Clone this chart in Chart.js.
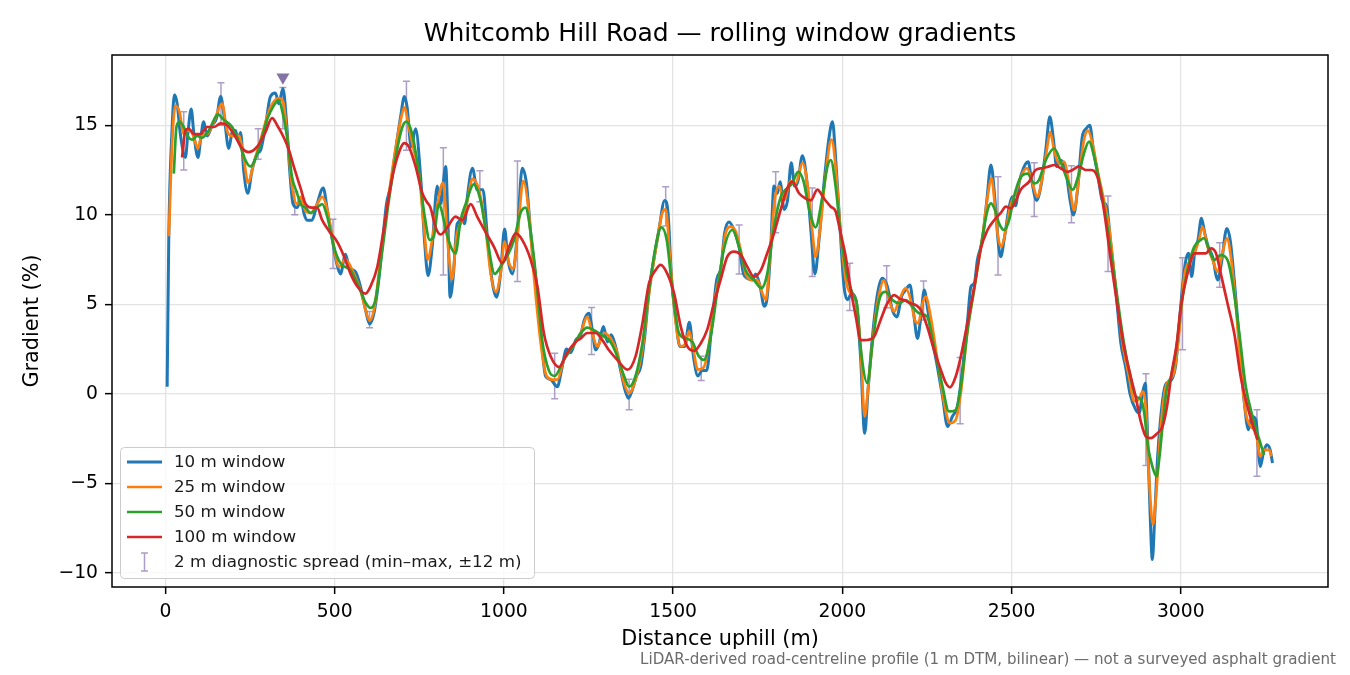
<!DOCTYPE html>
<html><head><meta charset="utf-8">
<script src="https://cdn.jsdelivr.net/npm/chart.js@4.4.1/dist/chart.umd.min.js"></script>
<style>html,body{margin:0;padding:0;background:#fff;}canvas{display:block;}</style>
</head><body>
<canvas id="c" width="1350" height="675"></canvas>
<script>
const chartTitle = 'Whitcomb Hill Road \u2014 rolling window gradients';
const xLabel = 'Distance uphill (m)';
const yLabel = 'Gradient (%)';
const footnote = 'LiDAR-derived road-centreline profile (1 m DTM, bilinear) \u2014 not a surveyed asphalt gradient';
const seriesNames = ['10 m window', '25 m window', '50 m window', '100 m window'];
const spreadName = '2 m diagnostic spread (min\u2013max, \u00b112 m)';
const xTicks = [0, 500, 1000, 1500, 2000, 2500, 3000];
const yTicks = [-10, -5, 0, 5, 10, 15];

// [distance m, gradient %]
const win10 = [[5,0.4],[9.8,8.8],[19.7,14.9],[26.6,16.7],[34.5,16.2],[44,14.5],[59,13.2],[66,14.5],[76,15.9],[84,14.5],[96,13.2],[105,14.4],[113,15.2],[123,14.4],[138,15.0],[151,15.4],[163,16.6],[174,15.4],[187,13.7],[197,14.6],[207,14.7],[214,14.2],[222,14.6],[231,12.5],[243,11.2],[256,12.5],[271,13.4],[281,13.6],[295,14.9],[310,16.6],[325,16.8],[335,16.2],[347,17.05],[358,15.1],[367,12.5],[377,10.6],[389,10.4],[401,10.9],[409,10.1],[419,9.7],[433,9.7],[448,10.6],[466,11.5],[478,10.3],[493,8.6],[507,7.2],[517,6.7],[532,7.8],[542,7.1],[562,6.8],[576,6.0],[591,4.7],[603,3.9],[616,4.5],[631,6.5],[640,8.2],[653,10.6],[665,11.6],[680,13.6],[695,15.5],[706,16.6],[714,16.0],[726,13.8],[739,14.8],[754,12.1],[766,8.4],[776,6.6],[788,8.2],[803,11.6],[813,10.6],[828,12.7],[835,9.3],[841,5.4],[850,6.5],[862,9.5],[877,9.7],[884,9.5],[892,11.0],[907,12.6],[921,11.4],[938,11.4],[951,8.8],[966,6.2],[978,5.4],[990,6.7],[1002,9.2],[1012,7.5],[1025,6.7],[1040,9.0],[1054,12.6],[1067,11.7],[1079,9.0],[1094,6.4],[1109,3.4],[1123,1.0],[1138,0.8],[1158,0.4],[1170,1.3],[1185,2.5],[1197,2.3],[1212,3.0],[1227,3.3],[1237,4.1],[1251,4.5],[1261,3.6],[1271,2.45],[1281,2.8],[1294,3.76],[1306,2.9],[1317,3.3],[1330,2.65],[1345,1.3],[1358,0.2],[1368,-0.24],[1379,0.2],[1392,1.0],[1404,1.5],[1416,3.2],[1429,5.8],[1443,7.5],[1458,9.15],[1475,10.8],[1485,10.1],[1495,6.5],[1507,4.3],[1520,2.65],[1534,2.65],[1548,4.0],[1560,2.1],[1573,1.0],[1586,1.3],[1599,1.3],[1613,3.6],[1629,6.4],[1641,7.0],[1652,8.96],[1665,9.6],[1680,9.15],[1695,8.2],[1708,6.7],[1719,6.46],[1734,6.36],[1744,6.7],[1757,6.0],[1769,4.9],[1778,5.4],[1788,8.0],[1798,11.6],[1808,11.2],[1816,11.85],[1828,10.3],[1838,10.8],[1849,12.9],[1859,11.6],[1869,11.9],[1882,13.3],[1895,11.9],[1907,9.15],[1919,6.7],[1931,8.6],[1946,11.8],[1961,14.36],[1971,15.2],[1980,13.2],[1993,9.3],[2005,6.0],[2015,5.25],[2027,5.6],[2040,5.25],[2054,2.0],[2066,-2.2],[2076,0.22],[2089,3.2],[2104,5.6],[2118,6.45],[2133,6.0],[2148,4.68],[2161,4.3],[2175,5.43],[2187,5.8],[2200,6.08],[2212,4.3],[2222,3.1],[2232,4.3],[2242,5.8],[2251,4.87],[2266,3.0],[2281,1.5],[2296,-0.15],[2311,-1.82],[2325,-1.26],[2340,-0.7],[2355,1.34],[2370,4.1],[2380,5.99],[2390,6.18],[2399,7.48],[2414,8.6],[2427,10.82],[2439,12.78],[2451,10.82],[2460,8.6],[2468,7.66],[2478,8.6],[2493,10.45],[2502,11.0],[2512,10.5],[2522,11.75],[2535,12.6],[2549,12.96],[2559,11.94],[2574,10.8],[2588,11.75],[2601,13.6],[2613,15.47],[2624,14.17],[2633,12.7],[2645,13.05],[2660,12.5],[2673,10.8],[2683,9.99],[2695,11.4],[2709,14.36],[2721,14.82],[2731,15.0],[2742,13.6],[2756,12.1],[2768,10.8],[2781,10.45],[2793,8.4],[2808,5.8],[2823,2.83],[2837,1.5],[2850,0.0],[2867,-0.89],[2877,-1.07],[2887,0.04],[2895,0.6],[2901,-1.82],[2909,-6.46],[2916,-9.25],[2923,-6.84],[2931,-3.68],[2941,-1.26],[2953,0.41],[2966,0.69],[2976,0.9],[2985,1.6],[2995,3.76],[3005,5.99],[3015,7.48],[3023,7.85],[3032,6.55],[3042,8.03],[3051,8.6],[3061,9.8],[3071,8.96],[3081,8.22],[3094,7.66],[3109,6.36],[3120,7.29],[3136,9.24],[3146,8.6],[3158,6.36],[3173,3.01],[3187,-0.33],[3200,-2.0],[3210,-1.26],[3222,-1.45],[3235,-4.05],[3244,-3.31],[3254,-2.84],[3264,-3.12],[3271,-3.86]];

const win25 = [[10,8.8],[19.7,14.0],[29.5,16.1],[42,15.7],[54,14.5],[64,14.7],[74,14.7],[84,14.3],[96,13.7],[108,14.5],[123,14.5],[143,15.2],[167,16.2],[182,14.7],[197,14.4],[217,14.4],[231,13.2],[244,11.8],[261,12.9],[281,14.2],[310,16.0],[335,16.5],[348,16.3],[359,14.5],[374,11.6],[389,10.6],[399,11.0],[414,10.2],[429,10.1],[448,10.6],[463,11.0],[478,10.3],[498,8.2],[512,7.1],[532,7.5],[557,6.7],[576,5.8],[591,4.7],[603,4.1],[618,4.9],[635,7.5],[655,10.4],[675,13.1],[695,15.3],[706,16.0],[719,14.9],[734,13.6],[749,12.3],[762,9.7],[775,7.5],[788,8.6],[803,10.5],[820,11.8],[835,8.2],[847,6.4],[860,8.8],[877,9.7],[892,10.8],[907,12.0],[926,11.4],[946,9.2],[961,6.7],[976,5.7],[990,6.7],[1002,8.5],[1015,7.3],[1028,7.0],[1041,9.0],[1057,11.9],[1071,10.6],[1089,6.5],[1109,2.8],[1126,1.0],[1143,0.8],[1158,0.8],[1177,1.9],[1202,2.6],[1227,3.4],[1246,4.3],[1261,3.4],[1276,2.65],[1296,3.4],[1315,3.1],[1335,2.3],[1355,0.6],[1370,0.04],[1389,0.8],[1409,2.45],[1429,5.6],[1448,8.0],[1468,10.1],[1478,10.3],[1491,7.5],[1507,4.1],[1522,2.65],[1537,2.83],[1547,3.5],[1560,2.45],[1573,1.35],[1591,1.5],[1606,2.8],[1626,5.6],[1640,6.9],[1655,8.96],[1670,9.34],[1685,9.06],[1700,8.0],[1714,6.7],[1734,6.36],[1749,6.36],[1764,5.6],[1774,5.25],[1786,7.66],[1800,10.8],[1813,11.6],[1828,10.8],[1847,11.9],[1862,11.75],[1882,12.9],[1899,11.4],[1912,8.96],[1921,7.66],[1936,9.5],[1951,12.3],[1968,14.2],[1980,12.7],[1995,8.96],[2010,6.36],[2025,5.6],[2040,5.25],[2054,2.6],[2066,-1.26],[2079,0.97],[2094,3.75],[2109,5.6],[2123,6.36],[2138,5.24],[2153,4.6],[2168,5.24],[2187,5.9],[2202,5.24],[2214,4.13],[2224,3.94],[2237,5.06],[2246,5.43],[2261,4.3],[2281,1.9],[2301,-0.52],[2318,-1.63],[2335,-1.45],[2350,0.04],[2370,3.57],[2389,5.8],[2414,8.78],[2429,11.0],[2441,12.03],[2451,10.45],[2460,8.78],[2470,8.22],[2483,9.15],[2498,10.6],[2512,11.2],[2527,12.1],[2545,12.6],[2562,11.75],[2576,11.0],[2591,12.1],[2604,13.6],[2614,14.63],[2626,13.6],[2640,12.87],[2655,12.96],[2670,11.75],[2685,10.26],[2699,12.1],[2714,14.17],[2726,14.7],[2739,13.98],[2756,12.3],[2773,10.8],[2788,9.34],[2808,5.99],[2828,2.83],[2847,0.97],[2862,-0.4],[2877,-0.3],[2887,0.13],[2897,-0.89],[2906,-4.6],[2918,-7.3],[2929,-5.16],[2941,-1.82],[2956,0.41],[2980,1.2],[2995,3.38],[3010,6.55],[3025,7.38],[3040,7.85],[3054,8.6],[3064,9.34],[3079,8.22],[3094,7.48],[3109,6.82],[3123,7.85],[3136,8.7],[3148,7.66],[3163,4.87],[3177,1.53],[3192,-1.08],[3207,-1.82],[3222,-2.19],[3235,-3.49],[3246,-3.12],[3261,-3.12],[3268,-3.49]];

const win50 = [[24.6,12.3],[32.5,14.9],[42,15.2],[54,14.9],[69,14.3],[79,14.2],[94,14.4],[108,14.3],[128,14.7],[155,15.6],[172,15.3],[197,14.9],[222,13.8],[236,13.05],[251,12.7],[271,13.4],[300,15.3],[320,16.1],[335,16.4],[345,15.8],[359,14.4],[374,12.1],[389,11.2],[399,10.6],[414,10.4],[429,10.1],[448,10.4],[463,10.6],[478,9.9],[498,8.2],[517,7.3],[547,6.9],[571,6.0],[591,5.1],[606,4.8],[621,5.3],[640,7.9],[660,10.8],[680,13.2],[700,14.9],[712,15.2],[729,14.5],[749,12.3],[766,9.9],[781,8.6],[793,8.8],[808,10.6],[815,10.3],[833,8.8],[857,7.85],[872,9.7],[887,10.6],[911,11.7],[931,10.8],[951,8.6],[973,6.7],[990,7.1],[1010,7.7],[1030,8.6],[1049,10.1],[1064,10.4],[1077,9.3],[1094,6.7],[1113,3.0],[1133,1.3],[1150,1.0],[1177,1.9],[1202,2.6],[1227,3.4],[1246,3.7],[1271,3.5],[1296,3.2],[1315,2.9],[1335,2.1],[1355,1.0],[1370,0.4],[1389,1.0],[1409,2.8],[1429,5.8],[1448,8.2],[1465,9.3],[1481,8.6],[1498,5.8],[1517,3.4],[1537,3.1],[1557,2.9],[1576,2.1],[1591,1.9],[1611,3.2],[1631,5.8],[1648,7.9],[1675,9.15],[1695,8.2],[1714,6.9],[1739,6.36],[1761,5.9],[1778,6.7],[1798,9.3],[1818,11.0],[1838,11.5],[1852,11.75],[1869,12.4],[1885,11.9],[1902,10.3],[1921,9.3],[1941,11.0],[1956,12.7],[1966,13.05],[1980,11.6],[1995,8.96],[2013,6.7],[2030,5.6],[2044,4.9],[2054,2.6],[2074,0.6],[2089,2.83],[2109,5.24],[2128,5.7],[2148,5.24],[2168,5.06],[2187,5.24],[2207,4.87],[2227,4.5],[2251,4.3],[2271,2.64],[2296,0.41],[2315,-0.98],[2335,-0.9],[2350,0.41],[2370,3.57],[2389,5.8],[2414,8.78],[2429,10.26],[2439,10.64],[2449,10.36],[2463,9.52],[2478,9.15],[2493,9.71],[2507,11.0],[2527,12.1],[2547,12.3],[2567,11.75],[2581,11.94],[2601,13.05],[2626,13.7],[2645,12.96],[2665,11.94],[2680,11.4],[2699,12.3],[2714,13.43],[2729,14.08],[2744,13.24],[2764,11.4],[2783,9.34],[2808,5.99],[2832,2.83],[2852,0.9],[2867,-0.14],[2882,-0.3],[2892,-1.07],[2903,-2.93],[2916,-4.05],[2928,-4.6],[2936,-3.68],[2946,-1.82],[2958,0.2],[2971,0.97],[2985,2.27],[3000,4.69],[3020,6.92],[3040,8.22],[3059,8.6],[3069,8.7],[3084,8.03],[3099,7.48],[3118,7.75],[3138,7.48],[3153,6.17],[3173,3.38],[3192,0.41],[3212,-1.26],[3232,-2.56],[3246,-3.4]];

const win100 = [[49,13.2],[59,14.7],[69,14.8],[84,14.5],[103,14.5],[123,14.9],[143,14.9],[163,15.1],[182,15.0],[202,14.5],[227,13.7],[246,13.5],[271,13.8],[295,14.6],[315,15.4],[330,15.0],[350,14.3],[365,13.6],[379,12.7],[399,11.5],[414,10.6],[433,10.4],[448,10.4],[463,9.7],[483,9.1],[507,8.5],[527,7.7],[547,6.7],[567,6.0],[591,5.6],[606,6.0],[626,7.1],[645,9.2],[665,11.6],[685,13.2],[706,14.0],[719,13.8],[739,12.7],[759,11.2],[773,10.7],[783,10.4],[798,9.3],[813,8.9],[833,9.3],[857,9.9],[877,9.7],[902,10.6],[921,9.9],[941,9.2],[971,8.2],[995,7.3],[1015,8.2],[1035,8.96],[1054,8.6],[1079,7.5],[1099,6.0],[1118,3.4],[1138,2.1],[1163,1.5],[1187,2.3],[1212,2.9],[1227,3.1],[1246,3.4],[1271,3.4],[1291,3.0],[1310,2.45],[1335,1.9],[1365,1.35],[1389,2.1],[1409,3.9],[1429,6.2],[1448,6.9],[1463,7.2],[1483,6.7],[1503,5.6],[1522,3.8],[1542,2.65],[1562,2.4],[1581,2.8],[1601,3.6],[1621,5.1],[1640,6.35],[1660,7.66],[1680,7.94],[1700,7.76],[1719,7.1],[1739,6.55],[1759,6.9],[1778,7.85],[1798,8.96],[1818,10.3],[1838,11.5],[1852,11.85],[1872,11.2],[1892,10.9],[1907,10.8],[1926,11.4],[1946,10.9],[1966,10.45],[1980,10.2],[1995,8.96],[2010,7.66],[2025,5.8],[2040,4.3],[2054,3.0],[2074,3.01],[2094,3.2],[2113,4.13],[2133,5.06],[2153,5.52],[2168,5.33],[2182,5.24],[2202,5.06],[2217,4.96],[2232,4.68],[2251,3.75],[2271,2.45],[2291,1.34],[2306,0.6],[2318,0.37],[2335,0.97],[2350,2.08],[2370,4.0],[2390,5.99],[2409,8.1],[2429,9.15],[2449,9.71],[2468,10.1],[2483,10.45],[2498,10.36],[2513,10.8],[2527,11.4],[2552,11.85],[2571,12.5],[2591,12.6],[2611,12.7],[2626,12.78],[2645,12.6],[2665,12.4],[2680,12.5],[2699,12.7],[2719,12.5],[2734,12.5],[2754,12.1],[2773,10.26],[2793,7.48],[2813,4.88],[2832,2.64],[2852,0.97],[2867,-0.2],[2882,-1.55],[2897,-2.38],[2911,-2.47],[2931,-2.19],[2946,-1.82],[2958,-0.85],[2973,1.16],[2988,2.8],[3000,4.87],[3020,6.73],[3040,7.85],[3059,7.85],[3074,7.85],[3089,8.12],[3104,7.85],[3118,6.73],[3138,5.06],[3158,3.38],[3177,0.97],[3197,-0.7],[3217,-2.0],[3227,-2.56]];

// [distance m, min %, max %]
const spread2m = [[54,12.5,15.75],[164,15.0,17.37],[274,13.1,14.8],[347,14.8,17.1],[382,10.0,11.3],[495,7.0,9.75],[603,3.7,4.6],[712,13.6,17.46],[821,6.64,13.74],[929,10.73,12.46],[1040,6.27,13.0],[1150,-0.27,2.27],[1259,2.2,4.82],[1370,-0.89,0.82],[1478,9.37,11.57],[1583,0.75,2.1],[1695,6.7,9.43],[1803,9.0,12.4],[1911,6.55,11.5],[2022,4.65,7.3],[2131,4.81,7.16],[2240,4.13,6.3],[2348,-1.67,2.03],[2460,6.64,12.12],[2567,9.9,12.9],[2677,9.56,12.74],[2785,6.83,11.05],[2897,-4.0,1.12],[3005,2.46,7.6],[3115,5.95,8.44],[3225,-4.6,-0.89]];

const steepestMark = [[347, 17.68]];

const FONT = "'DejaVu Sans', sans-serif";
const COLORS = ['#1f77b4', '#ff7f0e', '#2ca02c', '#d62728'];
const WIDTHS = [3, 2.7, 2.7, 2.7];
const ERR_COLOR = 'rgba(128,106,168,0.65)';
const MARK_COLOR = '#8573a5';

Chart.defaults.font.family = FONT;
Chart.defaults.color = '#000';

const toPts = arr => arr.map(p => ({x: p[0], y: p[1]}));
const series = [win10, win25, win50, win100];

const datasets = series.map((s, i) => ({
  label: seriesNames[i],
  data: toPts(s),
  borderColor: COLORS[i],
  backgroundColor: COLORS[i],
  borderWidth: WIDTHS[i],
  pointRadius: 0,
  fill: false,
  cubicInterpolationMode: 'monotone',
  borderJoinStyle: 'round',
  order: 4 - i + 1
}));
datasets.push({
  label: 'steepest',
  type: 'scatter',
  data: toPts(steepestMark),
  pointStyle: 'triangle',
  rotation: 180,
  pointRadius: 7.5,
  backgroundColor: MARK_COLOR,
  borderColor: MARK_COLOR,
  borderWidth: 0,
  order: 0
});

const fmt = v => (v < 0 ? '\u2212' + Math.abs(v) : String(v));

const decor = {
  id: 'decor',
  beforeDatasetsDraw(chart) {
    const {ctx, chartArea: a, scales: {x, y}} = chart;
    ctx.save();
    ctx.beginPath(); ctx.rect(a.left, a.top, a.width, a.height); ctx.clip();
    ctx.strokeStyle = ERR_COLOR; ctx.lineWidth = 1.5;
    for (const [d, lo, hi] of spread2m) {
      const px = x.getPixelForValue(d), y1 = y.getPixelForValue(lo), y2 = y.getPixelForValue(hi);
      ctx.beginPath();
      ctx.moveTo(px, y1); ctx.lineTo(px, y2);
      ctx.moveTo(px - 3.5, y1); ctx.lineTo(px + 3.5, y1);
      ctx.moveTo(px - 3.5, y2); ctx.lineTo(px + 3.5, y2);
      ctx.stroke();
    }
    ctx.restore();
  },
  afterDraw(chart) {
    const {ctx, chartArea: a} = chart;
    ctx.save();
    ctx.strokeStyle = '#000'; ctx.lineWidth = 1.5;
    ctx.strokeRect(a.left, a.top, a.right - a.left, a.bottom - a.top);
    const lx = a.left + 8, ly = a.bottom - 140, lw = 414, lh = 131;
    ctx.beginPath();
    ctx.roundRect(lx + 0.5, ly + 0.5, lw, lh, 4);
    ctx.fillStyle = 'rgba(255,255,255,0.8)'; ctx.fill();
    ctx.strokeStyle = '#cccccc'; ctx.lineWidth = 1; ctx.stroke();
    ctx.font = '16.7px ' + FONT;
    ctx.textBaseline = 'middle'; ctx.textAlign = 'left';
    for (let i = 0; i < seriesNames.length; i++) {
      const yy = ly + 15 + i * 25;
      ctx.strokeStyle = COLORS[i]; ctx.lineWidth = WIDTHS[i];
      ctx.beginPath(); ctx.moveTo(lx + 7, yy); ctx.lineTo(lx + 42, yy); ctx.stroke();
      ctx.fillStyle = '#1a1a1a';
      ctx.fillText(seriesNames[i], lx + 54, yy + 1);
    }
    const ye = ly + 15 + 4 * 25;
    ctx.strokeStyle = ERR_COLOR; ctx.lineWidth = 1.5;
    const cx = lx + 24.5;
    ctx.beginPath();
    ctx.moveTo(cx, ye - 9); ctx.lineTo(cx, ye + 9);
    ctx.moveTo(cx - 3.5, ye - 9); ctx.lineTo(cx + 3.5, ye - 9);
    ctx.moveTo(cx - 3.5, ye + 9); ctx.lineTo(cx + 3.5, ye + 9);
    ctx.stroke();
    ctx.fillStyle = '#1a1a1a';
    ctx.fillText(spreadName, lx + 54, ye + 1);
    ctx.font = '15.1px ' + FONT;
    ctx.fillStyle = '#6b6b6b';
    ctx.textAlign = 'right';
    ctx.fillText(footnote, 1336, 660);
    ctx.restore();
  }
};

const gridOpts = {color: '#e3e3e3', lineWidth: 1.3, tickColor: '#000', tickLength: 7, tickWidth: 1.5, drawTicks: true};

new Chart(document.getElementById('c'), {
  type: 'line',
  data: {datasets},
  options: {
    responsive: false,
    animation: false,
    devicePixelRatio: 1,
    layout: {padding: {left: 0, right: 22, top: 0, bottom: 0}},
    plugins: {
      legend: {display: false},
      tooltip: {enabled: false},
      title: {
        display: true, text: chartTitle, fullSize: false, color: '#000',
        font: {family: FONT, size: 25, weight: 'normal'},
        padding: {top: 19, bottom: 6}
      }
    },
    scales: {
      x: {
        type: 'linear', min: -158, max: 3435,
        afterBuildTicks: s => { s.ticks = xTicks.map(v => ({value: v})); },
        afterFit: s => { s.height = 88; },
        ticks: {font: {size: 18.75}, color: '#000', padding: 7, maxRotation: 0, autoSkip: false, callback: v => fmt(v)},
        grid: gridOpts,
        border: {display: false},
        title: {display: true, text: xLabel, color: '#000', font: {size: 20.8}, padding: {top: 0, bottom: 22.5}}
      },
      y: {
        type: 'linear', min: -10.78, max: 18.92,
        afterBuildTicks: s => { s.ticks = yTicks.map(v => ({value: v})); },
        afterFit: s => { s.width = 112; },
        ticks: {font: {size: 18.75}, color: '#000', padding: 7, autoSkip: false, callback: v => fmt(v)},
        grid: gridOpts,
        border: {display: false},
        title: {display: true, text: yLabel, color: '#000', font: {size: 20.8}, padding: {top: 20.5, bottom: 0}}
      }
    }
  },
  plugins: [decor]
});
</script>
</body></html>
